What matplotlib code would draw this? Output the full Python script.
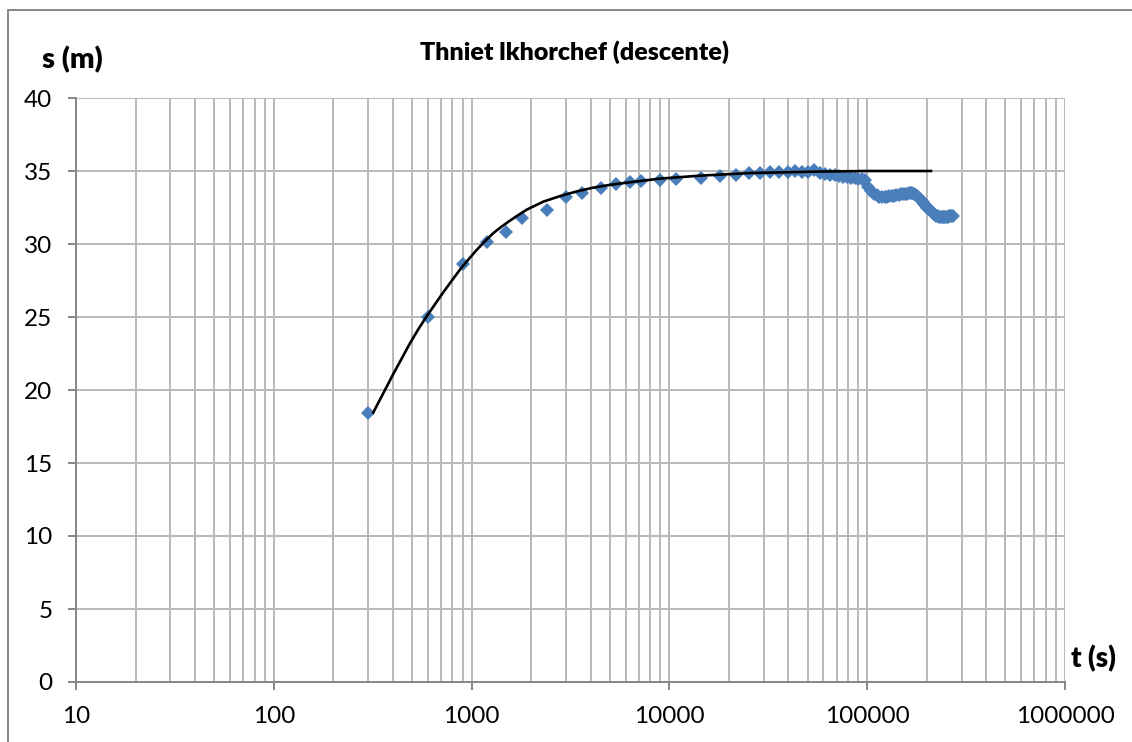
import matplotlib
matplotlib.use("Agg")
import matplotlib.pyplot as plt
from matplotlib.patches import Rectangle
from matplotlib.ticker import LogLocator, NullFormatter

plt.rcParams['font.family'] = ['Lato', 'DejaVu Sans']

# Measured drawdown during the pumping test (time in s, drawdown in m)
t_obs = [300, 600, 900, 1200, 1500, 1800, 2400, 3000, 3600, 4500, 5400, 6300,
         7200, 9000, 10800, 14400, 18000, 21600, 25200, 28800, 32400, 36000,
         39600, 43200, 46800, 50400, 54000, 57600, 61200, 64800, 68400, 72000,
         75600, 79200, 82800, 86400, 90000, 93600, 97200, 100800, 104400,
         108000, 111600, 115200, 118800, 122400, 126000, 129600, 133200,
         136800, 140400, 144000, 147600, 151200, 154800, 158400, 162000,
         165600, 169200, 172800, 176400, 180000, 183600, 187200, 190800,
         194400, 198000, 201600, 205200, 208800, 212400, 216000, 219600,
         223200, 226800, 230400, 234000, 237600, 241200, 244800, 248400,
         252000, 255600, 259200, 262800, 266400, 270000]
s_obs = [18.4, 25.0, 28.6, 30.15, 30.85, 31.75, 32.35, 33.2, 33.5, 33.85, 34.1,
         34.25, 34.3, 34.35, 34.45, 34.55, 34.65, 34.75, 34.85, 34.85, 34.9,
         34.9, 34.95, 35.0, 34.95, 34.95, 35.05, 34.85, 34.8, 34.75, 34.7,
         34.65, 34.6, 34.6, 34.55, 34.5, 34.45, 34.45, 34.4, 33.9, 33.6,
         33.45, 33.35, 33.25, 33.25, 33.25, 33.25, 33.3, 33.3, 33.3, 33.35,
         33.35, 33.4, 33.4, 33.4, 33.45, 33.5, 33.5, 33.5, 33.45, 33.35,
         33.25, 33.15, 33.0, 32.9, 32.75, 32.6, 32.5, 32.4, 32.3, 32.2, 32.1,
         32.0, 31.95, 31.9, 31.85, 31.85, 31.85, 31.85, 31.85, 31.85, 31.85,
         31.85, 31.9, 31.9, 31.9, 31.9]

# Fitted type curve
t_fit = [318, 360, 402, 445, 488, 540, 593, 655, 720, 795, 874, 965, 1062,
         1170, 1289, 1420, 1563, 1720, 1899, 2303, 2797, 3400, 4124, 5000,
         6078, 8960, 14280, 25500, 55600, 100000, 210000]
s_fit = [18.45, 19.85, 21.1, 22.2, 23.2, 24.2, 25.05, 25.9, 26.7, 27.5, 28.25,
         28.95, 29.6, 30.2, 30.75, 31.2, 31.6, 31.98, 32.35, 32.9, 33.28,
         33.6, 33.86, 34.05, 34.2, 34.48, 34.68, 34.86, 34.96, 35.0, 35.0]

y_ticks = [0, 5, 10, 15, 20, 25, 30, 35, 40]
x_ticks = [10, 100, 1000, 10000, 100000, 1000000]
x_tick_labels = ["10", "100", "1000", "10000", "100000", "1000000"]

fig = plt.figure(figsize=(11.32, 7.42), dpi=100)
ax = fig.add_axes([76 / 1132, 1 - 682 / 742, (1065 - 76) / 1132, (682 - 98) / 742])

grid_c = "#b9b9b9"
axis_c = "#868686"

ax.set_xscale("log")
ax.set_xlim(10, 1e6)
ax.set_ylim(0, 40)

ax.set_xticks(x_ticks)
ax.set_xticklabels(x_tick_labels)
ax.xaxis.set_minor_locator(LogLocator(base=10, subs=range(2, 10), numticks=100))
ax.xaxis.set_minor_formatter(NullFormatter())
ax.set_yticks(y_ticks)
ax.set_yticklabels([str(v) for v in y_ticks])

ax.grid(True, which="major", color=grid_c, linewidth=1.4)
ax.grid(True, which="minor", axis="x", color=grid_c, linewidth=1.4)
ax.set_axisbelow(True)

for side in ("top", "right"):
    ax.spines[side].set_visible(False)
for side in ("left", "bottom"):
    ax.spines[side].set_color(axis_c)
    ax.spines[side].set_linewidth(1.4)

ax.tick_params(axis="both", which="major", direction="out", length=6,
               width=1.4, color=axis_c, labelsize=17.5, pad=11,
               labelcolor="black")
ax.tick_params(axis="x", which="minor", length=0)

ax.plot(t_obs, s_obs, linestyle="none", marker="D", markersize=7,
        color="#4a7ebb", markeredgewidth=0, zorder=3)
ax.plot(t_fit, s_fit, color="black", linewidth=1.9, zorder=4,
        solid_joinstyle="round")

fig.text(575 / 1132, 1 - 52 / 742, "Thniet lkhorchef (descente)",
         ha="center", va="center", fontsize=18, fontweight=800)
fig.text(42 / 1132, 1 - 60 / 742, "s (m)", ha="left", va="center",
         fontsize=21, fontweight=800)
fig.text(1071 / 1132, 1 - 659 / 742, "t (s)", ha="left", va="center",
         fontsize=20, fontweight=800)

# outer chart frame
fig.patches.append(Rectangle((8 / 1132, -0.05), 1.2, 1 - 10 / 742 + 0.05,
                             transform=fig.transFigure, fill=False,
                             edgecolor=axis_c, linewidth=1.4))

fig.savefig("out.png", dpi=100)
